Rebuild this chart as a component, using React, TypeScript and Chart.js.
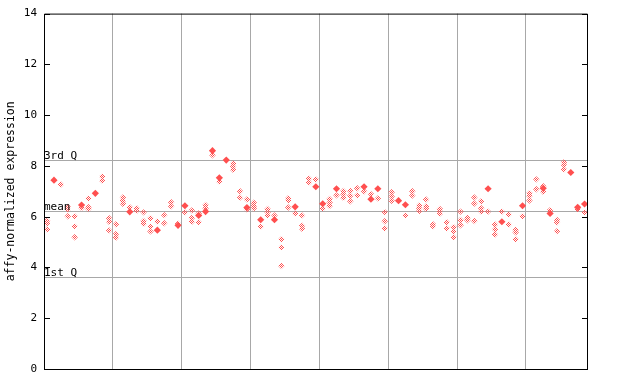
import React, { useEffect, useRef } from "react";
import { Chart, registerables } from "chart.js";

Chart.register(...registerables);

const yTickValues = [0, 2, 4, 6, 8, 10, 12, 14];
const yTitle = "affy-normalized expression";
const refLabels = ["3rd Q", "mean", "1st Q"];
const refValues = [8.23, 6.21, 3.61];
const groupBoundaries = [9.5, 19.5, 29.5, 39.5, 49.5, 59.5, 69.5];

// checkered (open) markers per sample column
const hollowValues: number[][] = [
  [5.84, 5.74, 5.5], [], [7.27], [6.38, 6.28, 6.02], [6.02, 5.62, 5.19],
  [6.34], [6.72, 6.37, 6.3], [], [7.58, 7.42], [5.94, 5.8, 5.46],
  [5.7, 5.32, 5.18], [6.76, 6.63, 6.51], [6.37], [6.33, 6.23], [6.17, 5.83, 5.72],
  [5.94, 5.61, 5.42], [5.81], [6.06, 5.74], [6.57, 6.41], [5.72],
  [6.17], [6.25, 5.95, 5.8], [6.13, 5.78], [6.46, 6.33], [8.42],
  [7.38], [], [8.1, 7.98, 7.85], [7.0, 6.75], [6.68, 6.29],
  [6.55, 6.42, 6.33], [5.61], [6.3, 6.17, 6.05], [6.05], [5.11, 4.79, 4.06],
  [6.73, 6.65, 6.36], [6.13], [6.05, 5.64, 5.52], [7.5, 7.35], [7.47],
  [6.32], [6.7, 6.56, 6.42], [6.84], [7.01, 6.88, 6.74], [7.01, 6.82, 6.61],
  [7.12, 6.84], [7.0], [6.89], [6.72], [6.18, 5.82, 5.54],
  [6.96, 6.8, 6.63], [], [6.05], [7.0, 6.83], [6.44, 6.33, 6.22],
  [6.68, 6.4, 6.31], [5.7, 5.62], [6.3, 6.21, 6.12], [5.78, 5.54], [5.59, 5.42, 5.19],
  [6.2, 5.87, 5.66], [5.95, 5.86], [6.76, 6.52, 5.83], [6.61, 6.33, 6.2], [6.2],
  [5.69, 5.5, 5.3], [6.2], [6.09, 5.69], [5.48, 5.38, 5.11], [6.02],
  [6.93, 6.81, 6.64], [7.47, 7.08], [7.2, 6.98], [6.26], [5.87, 5.78, 5.43],
  [8.14, 8.04, 7.87], [], [6.29], [6.17],
];

// solid markers per sample column
const filledValues: number[][] = [
  [], [7.44], [], [], [],
  [6.46], [], [6.92], [], [],
  [], [], [6.19], [], [],
  [], [5.47], [], [], [5.66],
  [6.43], [], [6.05], [6.2], [8.6],
  [7.53], [8.23], [], [], [6.36],
  [], [5.88], [], [5.88], [],
  [], [6.39], [], [], [7.18],
  [6.51], [], [7.1], [], [],
  [], [7.18], [6.69], [7.1], [],
  [], [6.63], [6.47], [], [],
  [], [], [], [], [],
  [], [], [], [], [7.1],
  [], [5.8], [], [], [6.43],
  [], [], [7.12], [6.13], [],
  [], [7.74], [6.37], [6.5],
];

const RED = "#ff4f4f";
const MONO = "'DejaVu Sans Mono', monospace";

function toPoints(cols: number[][]) {
  const pts: { x: number; y: number }[] = [];
  cols.forEach((vals, i) => vals.forEach((v) => pts.push({ x: i, y: v })));
  return pts;
}

export default function App() {
  const ref = useRef<HTMLCanvasElement>(null);

  useEffect(() => {
    if (!ref.current) return;
    const pc = document.createElement("canvas");
    pc.width = 2;
    pc.height = 2;
    const pctx = pc.getContext("2d")!;
    pctx.fillStyle = RED;
    pctx.fillRect(0, 0, 1, 1);
    pctx.fillRect(1, 1, 1, 1);
    const pattern = ref.current.getContext("2d")!.createPattern(pc, "repeat")!;

    const overlay = {
      id: "overlay",
      beforeDatasetsDraw(chart: any) {
        const { ctx, chartArea, scales } = chart;
        const { left, right } = chartArea;
        ctx.save();
        ctx.strokeStyle = "#a8a8a8";
        ctx.lineWidth = 1;
        refValues.forEach((v) => {
          const py = Math.round(scales.y.getPixelForValue(v)) + 0.5;
          ctx.beginPath();
          ctx.moveTo(left, py);
          ctx.lineTo(right, py);
          ctx.stroke();
        });
        ctx.restore();
      },
      afterDatasetsDraw(chart: any) {
        const { ctx, chartArea, scales } = chart;
        const { left, right, top, bottom } = chartArea;
        ctx.save();
        ctx.fillStyle = "#000";
        ctx.font = `11px ${MONO}`;
        ctx.textAlign = "left";
        ctx.textBaseline = "alphabetic";
        refValues.forEach((v, i) => {
          const py = Math.round(scales.y.getPixelForValue(v));
          ctx.fillText(refLabels[i], left, py - 1);
        });
        ctx.strokeStyle = "#000";
        ctx.lineWidth = 1;
        ctx.beginPath();
        ctx.rect(left + 0.5, top + 0.5, right - left - 1, bottom - top);
        ctx.stroke();
        yTickValues.forEach((v) => {
          const py = Math.round(scales.y.getPixelForValue(v)) + 0.5;
          ctx.beginPath();
          ctx.moveTo(left, py);
          ctx.lineTo(left + 6, py);
          ctx.moveTo(right - 6, py);
          ctx.lineTo(right, py);
          ctx.stroke();
        });
        ctx.restore();
      },
    };

    const chart = new Chart(ref.current, {
      type: "scatter",
      data: {
        datasets: [
          {
            data: toPoints(hollowValues),
            pointStyle: "rectRot",
            pointRadius: 3.2,
            pointHoverRadius: 3.2,
            backgroundColor: pattern as any,
            borderWidth: 0,
          },
          {
            data: toPoints(filledValues),
            pointStyle: "rectRot",
            pointRadius: 3.6,
            pointHoverRadius: 3.6,
            backgroundColor: RED,
            borderWidth: 0,
          },
        ],
      },
      options: {
        animation: false,
        responsive: false,
        events: [],
        layout: { padding: { left: 0, right: 52, top: 13, bottom: 0 } },
        plugins: { legend: { display: false }, tooltip: { enabled: false } },
        scales: {
          x: {
            type: "linear",
            min: -0.45,
            max: 78.5,
            afterBuildTicks: (s: any) => {
              s.ticks = groupBoundaries.map((v) => ({ value: v }));
            },
            afterFit: (s: any) => {
              s.height = 15;
            },
            ticks: { display: false },
            grid: { color: "#a8a8a8", lineWidth: 1, drawTicks: false },
            border: { display: false },
          },
          y: {
            min: 0,
            max: 14,
            afterBuildTicks: (s: any) => {
              s.ticks = yTickValues.map((v) => ({ value: v }));
            },
            afterFit: (s: any) => {
              s.width = 44;
            },
            ticks: {
              padding: 7,
              color: "#000",
              font: { family: MONO, size: 11 },
            },
            grid: { display: false, drawTicks: false },
            border: { display: false },
            title: {
              display: true,
              text: yTitle,
              color: "#000",
              font: { family: MONO, size: 11.5 },
              padding: { top: 4, bottom: 0 },
            },
          },
        },
      },
      plugins: [overlay],
    });
    return () => chart.destroy();
  }, []);

  return (
    <div style={{ position: "absolute", left: 0, top: 0, width: 640, height: 384, background: "#fff" }}>
      <canvas ref={ref} width={640} height={384} />
    </div>
  );
}
